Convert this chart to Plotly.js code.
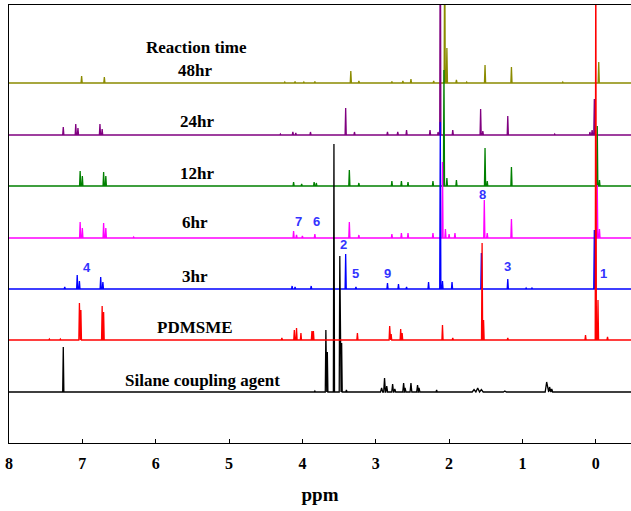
<!DOCTYPE html>
<html>
<head>
<meta charset="utf-8">
<script src="https://cdn.plot.ly/plotly-3.0.1.min.js"></script>
<style>html,body{margin:0;padding:0;background:#fff;}#chart{width:631px;height:511px;}</style>
</head>
<body>
<div id="chart"></div>
<script>
// ---- data (ppm positions and peak heights) ----
const seriesNames = ['48hr', '24hr', '12hr', '6hr', '3hr', 'PDMSME', 'Silane coupling agent'];
const baselines = [360, 308, 257, 205, 154, 103, 51];
const seriesColors = ['#8B8B00', '#800080', '#008000', '#FF00FF', '#0000FF', '#FF0000', '#000000'];

const ppm48 = [7.01, 6.70, 4.24, 4.10, 3.98, 3.83, 3.34, 3.23, 2.78, 2.63, 2.52, 2.21, 2.06, 2.03, 1.90, 1.76, 1.51, 1.15, 0.45, -0.04];
const h48   = [7, 6, 1, 1.5, 1, 1.5, 12, 2, 1.5, 2, 4, 2, 150, 35, 3, 1, 18, 16, 1, 21];

const ppm24 = [7.26, 7.09, 7.06, 6.76, 6.73, 4.30, 4.13, 4.09, 3.89, 3.41, 3.29, 2.84, 2.70, 2.58, 2.26, 2.15, 2.12, 1.95, 1.57, 1.54, 1.20, 0.56, 0.08, 0.05, 0.02];
const h24   = [8, 11, 7, 11, 6, 1, 3, 2, 3, 27, 3, 3, 3, 5, 5, 3, 250, 5, 26, 4, 19, 1, 3, 5, 36];

const ppm12 = [7.03, 7.00, 6.71, 6.68, 4.12, 4.01, 3.84, 3.81, 3.36, 3.23, 2.78, 2.65, 2.56, 2.22, 2.07, 2.03, 1.90, 1.51, 1.48, 1.15, -0.02, -0.05];
const h12   = [15, 10, 14, 10, 4, 2, 4, 3, 16, 3, 5, 5, 4, 5, 116, 8, 6, 38, 5, 19, 60, 6];

const ppm6 = [7.03, 7.00, 6.71, 6.68, 6.30, 4.12, 4.08, 4.00, 3.83, 3.36, 3.23, 2.78, 2.65, 2.56, 2.22, 2.09, 2.05, 2.00, 1.92, 1.52, 1.48, 1.15, -0.02, -0.05];
const h6   = [16, 10, 15, 10, 1, 7, 3, 2, 4, 16, 3, 4, 5, 5, 5, 76, 9, 4, 5, 38, 5, 19, 53, 9];

const ppm3 = [7.24, 7.07, 7.04, 6.75, 6.72, 4.14, 4.10, 3.88, 3.41, 3.27, 2.84, 2.69, 2.58, 2.28, 2.12, 2.09, 1.96, 1.56, 1.20, 0.95, 0.87, 0.02];
const h3   = [2, 14, 8, 12, 7, 3, 2, 3, 35, 2, 6, 5, 2, 7, 167, 8, 7, 36, 10, 1, 1, 59];

const ppmPD = [7.45, 7.30, 7.04, 7.02, 6.73, 6.71, 4.28, 4.11, 4.08, 4.02, 3.87, 3.85, 3.25, 2.81, 2.79, 2.66, 2.64, 2.09, 1.95, 1.55, 1.53, 1.20, 0.14, 0.00, -0.03, -0.16];
const hPD   = [1, 1, 37, 30, 34, 28, 2, 10, 12, 7, 9, 9, 7, 14, 6, 11, 7, 15, 2, 97, 20, 2, 5, 420, 40, 3];

const ppmSi = [7.26, 3.83, 3.68, 3.66, 3.57, 3.49, 3.465, 3.40, 2.92, 2.88, 2.85, 2.77, 2.74, 2.62, 2.60, 2.52, 2.43, 2.41, 2.17, 1.66, 1.61, 1.56, 1.24, 0.67, 0.63, 0.60];
const hSi   = [45, 1, 62, 40, 248, 136, 49, 2, 4, 14, 6, 8, 3, 9, 4, 9, 7, 4, 2, 2.5, 4, 2.5, 1, 10, 5, 3];
const wSi   = [0.008, 0.008, 0.008, 0.008, 0.008, 0.008, 0.008, 0.008, 0.015, 0.012, 0.012, 0.012, 0.012, 0.012, 0.012, 0.012, 0.012, 0.012, 0.008, 0.025, 0.025, 0.025, 0.02, 0.02, 0.012, 0.012];

const peakPpm = [ppm48, ppm24, ppm12, ppm6, ppm3, ppmPD, ppmSi];
const peakH   = [h48, h24, h12, h6, h3, hPD, hSi];
const peakW   = [null, null, null, null, null, null, wSi];

const xTicks = [8, 7, 6, 5, 4, 3, 2, 1, 0];

// label texts and their positions (ppm, height units)
const seriesLabelX = [5.46, 5.44, 5.44, 5.46, 5.46, 5.46, 5.36];
const seriesLabelY = [373, 322, 270, 221, 167, 116, 63];
const titleText = 'Reaction time';
const assignText = ['4', '7', '6', '2', '5', '9', '8', '3', '1'];
const assignX = [6.94, 4.05, 3.81, 3.44, 3.27, 2.84, 1.54, 1.20, -0.10];
const assignY = [176, 222, 222, 199, 170, 170, 249, 177, 170];

// ---- build traces from peak lists ----
function buildSpectrum(pp, hh, ww, base) {
  const idx = pp.map((_, i) => i).sort((a, b) => pp[b] - pp[a]);
  const xs = [8.2], ys = [base];
  idx.forEach(i => {
    const w = ww ? ww[i] : 0.008;
    xs.push(pp[i] + w, pp[i], pp[i] - w);
    ys.push(base, base + hh[i], base);
  });
  xs.push(-0.7); ys.push(base);
  return {x: xs, y: ys};
}

const drawOrder = [0, 1, 2, 3, 4, 6, 5];
const traces = drawOrder.map(k => {
  const s = buildSpectrum(peakPpm[k], peakH[k], peakW[k], baselines[k]);
  return {
    type: 'scatter', mode: 'lines', name: seriesNames[k],
    x: s.x, y: s.y,
    line: {color: seriesColors[k], width: 1.3},
    hoverinfo: 'skip'
  };
});

const serif = 'Liberation Serif, Times New Roman, serif';
const annotations = [];
annotations.push({x: 5.44, y: 396, xref: 'x', yref: 'y', text: '<b>' + titleText + '</b>', showarrow: false,
  font: {family: serif, size: 17, color: '#000'}});
seriesNames.forEach((n, k) => {
  annotations.push({x: seriesLabelX[k], y: seriesLabelY[k], xref: 'x', yref: 'y', text: '<b>' + n + '</b>', showarrow: false,
    font: {family: serif, size: 17, color: '#000'}});
});
assignText.forEach((t, i) => {
  annotations.push({x: assignX[i], y: assignY[i], xref: 'x', yref: 'y', text: '<b>' + t + '</b>', showarrow: false,
    font: {family: 'Liberation Sans, Arial, sans-serif', size: 13, color: '#3333FF'}});
});

const layout = {
  width: 631, height: 511,
  margin: {l: 9, r: 0, t: 5, b: 68},
  paper_bgcolor: '#fff', plot_bgcolor: '#fff',
  showlegend: false,
  xaxis: {
    range: [8, -0.48], tickvals: xTicks, ticktext: xTicks.map(String),
    ticks: 'inside', ticklen: 4, tickwidth: 1, tickcolor: '#000',
    ticklabelstandoff: 5,
    showline: true, linecolor: '#000', linewidth: 1.3, mirror: true,
    showgrid: false, zeroline: false,
    tickfont: {family: serif, size: 16, color: '#000', weight: 'bold'},
    title: {text: '<b>ppm</b>', font: {family: serif, size: 19, color: '#000'}, standoff: 17}
  },
  yaxis: {
    range: [0, 438], showticklabels: false, ticks: '',
    showline: true, linecolor: '#000', linewidth: 1.3, mirror: true,
    showgrid: false, zeroline: false
  },
  annotations: annotations
};

Plotly.newPlot('chart', traces, layout, {displayModeBar: false, staticPlot: true});
</script>
</body>
</html>
